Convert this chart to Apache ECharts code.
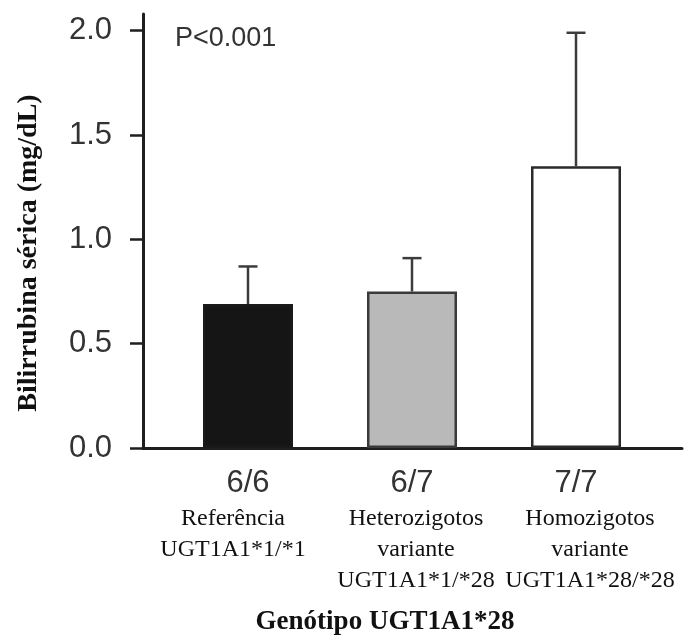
<!DOCTYPE html>
<html>
<head>
<meta charset="utf-8">
<script src="https://cdn.jsdelivr.net/npm/echarts@6/dist/echarts.min.js"></script>
<style>
html,body{margin:0;padding:0;background:#fff;}
#chart{width:688px;height:639px;}
</style>
</head>
<body>
<div id="chart"></div>
<script>
// ---- data ----
const positions = [1, 2, 3];
const counts = ['6/6', '6/7', '7/7'];
const groupLines = [
  ['Referência', 'UGT1A1*1/*1'],
  ['Heterozigotos', 'variante', 'UGT1A1*1/*28'],
  ['Homozigotos', 'variante', 'UGT1A1*28/*28']
];
const means = [0.69, 0.75, 1.35];
const upper = [0.87, 0.91, 1.99];
const yTicks = [0, 0.5, 1.0, 1.5, 2.0];
const pText = 'P<0.001';
const yTitle = 'Bilirrubina sérica (mg/dL)';
const xTitle = 'Genótipo UGT1A1*28';

// ---- styles ----
const barFill = ['#151515', '#b9b9b9', '#ffffff'];
const barBorder = ['#1a1a1a', '#3a3a3a', '#2a2a2a'];
const textPad = [[0, 30, 0, 0], [0, 0, 0, 8], [0, 0, 0, 28]];
const X_MIN = 0.3598, X_MAX = 3.6463;

const chart = echarts.init(document.getElementById('chart'), null, {renderer: 'canvas'});

const mainX = {
  type: 'value',
  position: 'bottom',
  min: X_MIN,
  max: X_MAX,
  splitLine: {show: false},
  axisTick: {show: false},
  axisLine: {show: true, onZero: false, lineStyle: {color: '#1e1e1e', width: 3}},
  axisLabel: {
    show: true,
    customValues: positions,
    margin: 20,
    fontSize: 31,
    fontFamily: 'Liberation Sans',
    color: '#333',
    formatter: function (v) {
      const i = positions.indexOf(Math.round(v));
      return i < 0 ? '' : counts[i];
    }
  }
};

const nameAxes = positions.map((p, i) => ({
  type: 'value',
  position: 'bottom',
  offset: 0,
  min: X_MIN,
  max: X_MAX,
  splitLine: {show: false},
  axisTick: {show: false},
  axisLine: {show: false, onZero: false},
  axisLabel: {
    show: true,
    customValues: [p],
    margin: 55,
    formatter: function () {
      return groupLines[i].map(s => '{c|' + s + '}').join('\n');
    },
    rich: {
      c: {fontSize: 24, fontFamily: 'Liberation Serif', color: '#111', lineHeight: 31, align: 'center', padding: textPad[i]}
    }
  }
}));

const option = {
  animation: false,
  backgroundColor: '#fff',
  grid: {left: 143, right: 6, top: 14, bottom: 191, containLabel: false, outerBoundsMode: 'none'},
  xAxis: [mainX].concat(nameAxes),
  yAxis: {
    type: 'value',
    min: 0,
    max: 2.08,
    splitLine: {show: false},
    axisLine: {show: true, lineStyle: {color: '#1e1e1e', width: 3}},
    axisTick: {show: true, customValues: yTicks, length: 13, lineStyle: {color: '#1e1e1e', width: 2.5}},
    axisLabel: {
      show: true,
      customValues: yTicks,
      margin: 31,
      fontSize: 31,
      fontFamily: 'Liberation Sans',
      color: '#333',
      formatter: v => v.toFixed(1)
    }
  },
  graphic: [
    {type: 'text', left: 175, top: 25, style: {text: pText, fontSize: 27, fontFamily: 'Liberation Sans', fill: '#333'}},
    {type: 'text', x: 29, y: 253, rotation: Math.PI / 2,
      style: {text: yTitle, fontSize: 28, fontWeight: 'bold', fontFamily: 'Liberation Serif', fill: '#111', align: 'center', verticalAlign: 'middle'}},
    {type: 'text', x: 385, y: 622,
      style: {text: xTitle, fontSize: 27, fontWeight: 'bold', fontFamily: 'Liberation Serif', fill: '#111', align: 'center', verticalAlign: 'middle'}}
  ],
  series: [
    {
      type: 'bar',
      xAxisIndex: 0,
      barWidth: 90,
      data: positions.map((p, i) => ({
        value: [p, means[i]],
        itemStyle: {color: barFill[i], borderColor: barBorder[i], borderWidth: 2.5}
      })),
      z: 2
    },
    {
      type: 'custom',
      xAxisIndex: 0,
      z: 3,
      data: positions.map((p, i) => [p, means[i], upper[i]]),
      renderItem: function (params, api) {
        const x = api.value(0);
        const top = api.coord([x, api.value(2)]);
        const base = api.coord([x, api.value(1)]);
        const hw = 9.5;
        const style = {stroke: '#3c3c3c', lineWidth: 2.5};
        return {
          type: 'group',
          children: [
            {type: 'line', shape: {x1: base[0], y1: base[1], x2: top[0], y2: top[1]}, style: style},
            {type: 'line', shape: {x1: top[0] - hw, y1: top[1], x2: top[0] + hw, y2: top[1]}, style: style}
          ]
        };
      }
    }
  ]
};
chart.setOption(option);
</script>
</body>
</html>
